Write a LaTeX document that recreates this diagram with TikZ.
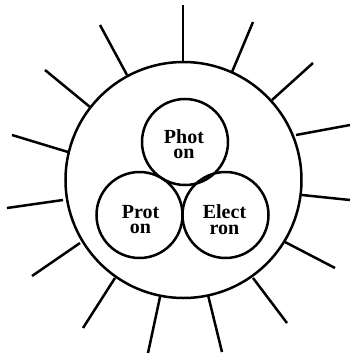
\documentclass[tikz,border=0pt]{standalone}
\usepackage{fontspec}
\setmainfont{Liberation Serif}
\begin{document}
\begin{tikzpicture}[x=1pt,y=-1pt,
  ray/.style={line width=2.5pt},
  ring/.style={circle,draw,line width=2.5pt,inner sep=0pt},
  lbl/.style={font=\bfseries\fontsize{20}{15.5}\selectfont,align=center,inner sep=0pt}]
\useasboundingbox (0,0) rectangle (352,360);
\node[ring,minimum size=236pt] (atom) at (183.5,180) {};
\node[ring,minimum size=86pt] (photon) at (185,142) {};
\node[ring,minimum size=86pt] (proton) at (139.5,215) {};
\node[ring,minimum size=86pt] (electron) at (225.5,215) {};
\node[lbl] (tph) at (184,144) {Phot\\on};
\node[lbl] (tpr) at (140.5,219.5) {Prot\\on};
\node[lbl] (tel) at (224.5,219.5) {Elect\\ron};
\draw[ray] (183,62) -- (183,5);
\draw[ray] (232,72) -- (253,22);
\draw[ray] (272,100) -- (313,63);
\draw[ray] (296,135) -- (350,125);
\draw[ray] (302,195) -- (350,200);
\draw[ray] (285,242) -- (335,268);
\draw[ray] (253,278) -- (287,323);
\draw[ray] (208,295) -- (222,352);
\draw[ray] (160,297) -- (148,353);
\draw[ray] (115,278) -- (83,328);
\draw[ray] (80,243) -- (32,276);
\draw[ray] (63,200) -- (7,208);
\draw[ray] (68,152) -- (12,135);
\draw[ray] (90,107) -- (45,70);
\draw[ray] (127,75) -- (100,25);
\end{tikzpicture}
\end{document}
